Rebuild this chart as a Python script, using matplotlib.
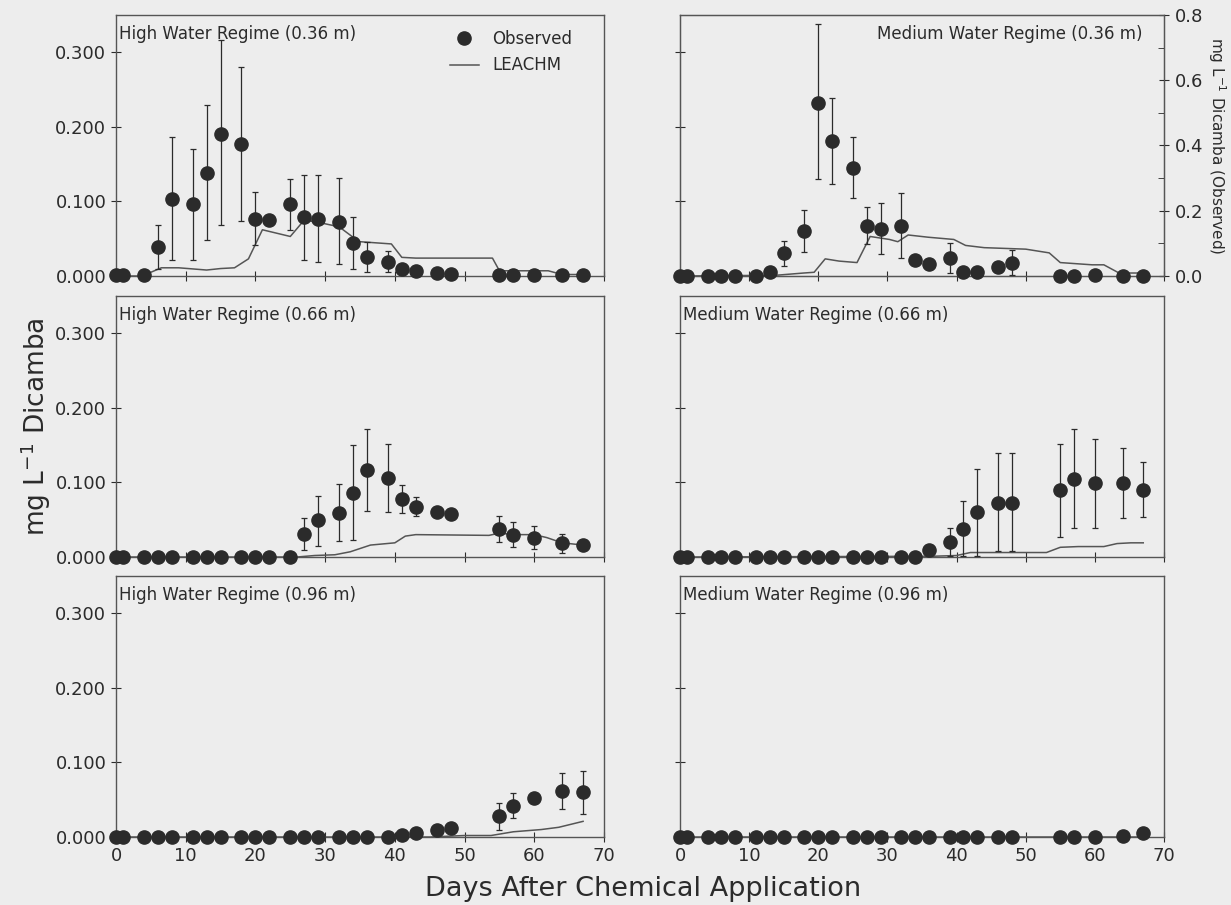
import numpy as np
import matplotlib
matplotlib.use('Agg')
import matplotlib.pyplot as plt

nan = np.nan

DAYS = [0, 1, 4, 6, 8, 11, 13, 15, 18, 20, 22, 25, 27, 29, 32, 34, 36, 39, 41, 43, 46, 48, 55, 57, 60, 64, 67]

# High water regime, 0.36 m
HIGH_36_OBS = [0.001, 0.001, 0.001, 0.039, 0.103, 0.096, 0.138, 0.191, 0.177, 0.076, 0.075, 0.096, 0.079, 0.077,
               0.073, 0.044, 0.026, 0.019, 0.010, 0.007, 0.004, 0.003, 0.002, 0.002, 0.002, 0.002, 0.002]
HIGH_36_HI = [nan, nan, nan, 0.069, 0.186, 0.170, 0.229, 0.316, 0.280, 0.112, nan, 0.130, 0.136, 0.135,
              0.131, 0.079, 0.045, 0.033, nan, nan, nan, nan, nan, nan, nan, nan, nan]
HIGH_36_LO = [nan, nan, nan, 0.009, 0.022, 0.022, 0.048, 0.068, 0.074, 0.042, nan, 0.062, 0.022, 0.019,
              0.016, 0.009, 0.006, 0.005, nan, nan, nan, nan, nan, nan, nan, nan, nan]
HIGH_36_SIM_X = [0, 4, 5, 6.5, 9, 13, 15, 17, 19, 21, 25, 27, 29, 32, 34, 35, 39.5, 41, 43, 54, 55, 60, 62, 64, 67]
HIGH_36_SIM_Y = [0, 0, 0.005, 0.011, 0.011, 0.008, 0.010, 0.011, 0.023, 0.062, 0.053, 0.075, 0.072, 0.066,
                 0.052, 0.046, 0.043, 0.025, 0.024, 0.024, 0.007, 0.007, 0.007, 0.002, 0.002]

# High water regime, 0.66 m
HIGH_66_OBS = [0.0] * 12 + [0.031, 0.049, 0.059, 0.086, 0.116, 0.106, 0.078, 0.067, 0.061, 0.057,
                            0.037, 0.030, 0.026, 0.019, 0.016]
HIGH_66_HI = [nan] * 12 + [0.052, 0.082, 0.098, 0.150, 0.171, 0.152, 0.096, 0.080, nan, nan,
                           0.055, 0.047, 0.041, 0.031, nan]
HIGH_66_LO = [nan] * 12 + [0.010, 0.015, 0.022, 0.023, 0.062, 0.060, 0.059, 0.055, nan, nan,
                           0.020, 0.013, 0.011, 0.005, nan]
HIGH_66_SIM_X = [0, 26, 28.5, 31.4, 33.6, 36.5, 40, 41.5, 43, 53.5, 55, 57, 60, 61.8, 64, 67]
HIGH_66_SIM_Y = [0, 0, 0.002, 0.003, 0.007, 0.016, 0.019, 0.028, 0.030, 0.029, 0.032, 0.030, 0.030,
                 0.026, 0.019, 0.016]

# High water regime, 0.96 m
HIGH_96_OBS = [0.0] * 18 + [0.003, 0.006, 0.010, 0.012, 0.028, 0.042, 0.052, 0.062, 0.060]
HIGH_96_HI = [nan] * 18 + [nan, nan, nan, nan, 0.046, 0.059, nan, 0.086, 0.088]
HIGH_96_LO = [nan] * 18 + [nan, nan, nan, nan, 0.010, 0.025, nan, 0.037, 0.031]
HIGH_96_SIM_X = [0, 45, 50, 53.8, 57, 61, 63.5, 67]
HIGH_96_SIM_Y = [0, 0, 0.002, 0.002, 0.007, 0.010, 0.013, 0.021]

# Medium water regime, 0.36 m (observed on the right axis, 0-0.8)
MED_36_OBS = [0.0, 0.0, 0.0, 0.0, 0.0, 0.0, 0.012, 0.070, 0.138, 0.531, 0.413, 0.331, 0.154, 0.144,
              0.154, 0.049, 0.036, 0.055, 0.012, 0.012, 0.029, 0.041, 0.0, 0.0, 0.003, 0.0, 0.0]
MED_36_HI = [nan, nan, nan, nan, nan, nan, nan, 0.106, 0.202, 0.771, 0.546, 0.427, 0.212, 0.224,
             0.253, nan, nan, 0.101, nan, nan, 0.042, 0.080, nan, nan, nan, nan, nan]
MED_36_LO = [nan, nan, nan, nan, nan, nan, nan, 0.031, 0.075, 0.297, 0.282, 0.239, 0.099, 0.067,
             0.056, nan, nan, 0.010, nan, nan, 0.016, 0.002, nan, nan, nan, nan, nan]
MED_36_SIM_X = [0, 13.9, 17.9, 19.4, 21, 23, 25.6, 27.5, 30.3, 31.5, 33, 35.9, 39.6, 41.3, 44, 50,
                53.4, 55, 59.6, 61.3, 63.5, 67]
MED_36_SIM_Y = [0, 0.001, 0.004, 0.005, 0.023, 0.020, 0.018, 0.053, 0.049, 0.046, 0.055, 0.052, 0.049,
                0.041, 0.038, 0.036, 0.031, 0.018, 0.015, 0.015, 0.004, 0.004]

# Medium water regime, 0.66 m
MED_66_OBS = [0.0] * 16 + [0.009, 0.020, 0.038, 0.060, 0.073, 0.073, 0.090, 0.105, 0.099, 0.099, 0.090]
MED_66_HI = [nan] * 16 + [nan, 0.039, 0.075, 0.118, 0.140, 0.139, 0.152, 0.172, 0.158, 0.146, 0.128]
MED_66_LO = [nan] * 16 + [nan, 0.002, 0.001, 0.002, 0.008, 0.008, 0.027, 0.039, 0.039, 0.052, 0.053]
MED_66_SIM_X = [0, 36.5, 40, 42, 53, 55, 57.6, 61.3, 63.2, 65.2, 67]
MED_66_SIM_Y = [0, 0.001, 0.002, 0.006, 0.006, 0.013, 0.014, 0.014, 0.018, 0.019, 0.019]

# Medium water regime, 0.96 m
MED_96_OBS = [0.0] * 25 + [0.001, 0.006]
MED_96_HI = [nan] * 27
MED_96_LO = [nan] * 27
MED_96_SIM_X = [0, 67]
MED_96_SIM_Y = [0, 0]

TITLES = ['High Water Regime (0.36 m)', 'Medium Water Regime (0.36 m)',
          'High Water Regime (0.66 m)', 'Medium Water Regime (0.66 m)',
          'High Water Regime (0.96 m)', 'Medium Water Regime (0.96 m)']

BG = '#ededed'
INK = '#2b2b2b'
LINE = '#555555'

plt.rcParams['font.family'] = ['DejaVu Sans']

fig = plt.figure(figsize=(12.31, 9.05), dpi=100, facecolor=BG)

# panel frames measured in pixels off the reference
lefts = [116 / 1231, 680 / 1231]
widths = [488 / 1231, 484 / 1231]
bottoms = [1 - 276 / 905, 1 - 557 / 905, 1 - 837 / 905]
height = 261 / 905

panels = [
    (HIGH_36_OBS, HIGH_36_HI, HIGH_36_LO, HIGH_36_SIM_X, HIGH_36_SIM_Y),
    (MED_36_OBS, MED_36_HI, MED_36_LO, MED_36_SIM_X, MED_36_SIM_Y),
    (HIGH_66_OBS, HIGH_66_HI, HIGH_66_LO, HIGH_66_SIM_X, HIGH_66_SIM_Y),
    (MED_66_OBS, MED_66_HI, MED_66_LO, MED_66_SIM_X, MED_66_SIM_Y),
    (HIGH_96_OBS, HIGH_96_HI, HIGH_96_LO, HIGH_96_SIM_X, HIGH_96_SIM_Y),
    (MED_96_OBS, MED_96_HI, MED_96_LO, MED_96_SIM_X, MED_96_SIM_Y),
]

for i, (obs, hi, lo, sx, sy) in enumerate(panels):
    row, col = i // 2, i % 2
    ax = fig.add_axes([lefts[col], bottoms[row], widths[col], height])
    ax.set_facecolor('none')
    ax.set_xlim(0, 70)
    ax.set_ylim(0, 0.35)
    for sp in ax.spines.values():
        sp.set_color(LINE)
        sp.set_linewidth(1.0)

    ax.plot(sx, sy, color=LINE, lw=1.1, zorder=2)

    obs = np.array(obs)
    hi = np.array(hi)
    lo = np.array(lo)
    days = np.array(DAYS)

    if i == 1:
        # observed values go on the right axis
        target = ax.twinx()
        target.set_ylim(0, 0.8)
        target.set_facecolor('none')
        target.set_yticks([0.0, 0.2, 0.4, 0.6, 0.8])
        target.set_yticks([0.1, 0.3, 0.5, 0.7], minor=True)
        target.set_yticklabels(['0.0', '0.2', '0.4', '0.6', '0.8'])
        target.tick_params(axis='y', which='major', direction='inout', length=7, labelsize=13,
                           colors=INK, pad=4)
        target.tick_params(axis='y', which='minor', direction='in', length=4, colors=INK)
        for sp in target.spines.values():
            sp.set_color(LINE)
        target.set_ylabel('mg L$^{-1}$ Dicamba (Observed)', rotation=270, fontsize=11,
                          color=INK, labelpad=18)
    else:
        target = ax

    mask = ~np.isnan(hi)
    mid = (hi + lo) / 2
    target.errorbar(days[mask], mid[mask], yerr=(hi[mask] - lo[mask]) / 2, fmt='none',
                    ecolor=INK, elinewidth=0.9, capsize=2.5, capthick=0.9, zorder=3, clip_on=False)
    target.plot(days, obs, 'o', color=INK, ms=9.5, zorder=4, clip_on=False)

    ax.set_xticks(range(0, 71, 10))
    ax.set_yticks([0.0, 0.1, 0.2, 0.3])
    ax.tick_params(direction='inout', length=7, colors=INK, labelsize=13)
    if row == 2:
        ax.set_xticklabels([str(v) for v in range(0, 71, 10)])
    else:
        ax.set_xticklabels([])
    if col == 0:
        ax.set_yticklabels(['0.000', '0.100', '0.200', '0.300'])
    else:
        ax.set_yticklabels([])

    if i == 1:
        ax.text(0.955, 0.927, TITLES[i], transform=ax.transAxes, ha='right', va='center',
                fontsize=12, color=INK)
    else:
        ax.text(0.006, 0.927, TITLES[i], transform=ax.transAxes, ha='left', va='center',
                fontsize=12, color=INK)

    if i == 0:
        handles = [
            plt.Line2D([], [], marker='o', ls='none', color=INK, ms=9.5),
            plt.Line2D([], [], color=LINE, lw=1.1),
        ]
        ax.legend(handles, ['Observed', 'LEACHM'], loc='upper right', bbox_to_anchor=(0.965, 1.0),
                  frameon=False, fontsize=12, handlelength=1.7, labelspacing=0.5, labelcolor=INK)

fig.text(0.029, 0.529, 'mg L$^{-1}$ Dicamba', rotation=90, ha='center', va='center',
         fontsize=19, color=INK)
fig.text(0.522, 0.018, 'Days After Chemical Application', ha='center', va='center',
         fontsize=19.5, color=INK)

fig.savefig('out.png', dpi=100, facecolor=BG)
